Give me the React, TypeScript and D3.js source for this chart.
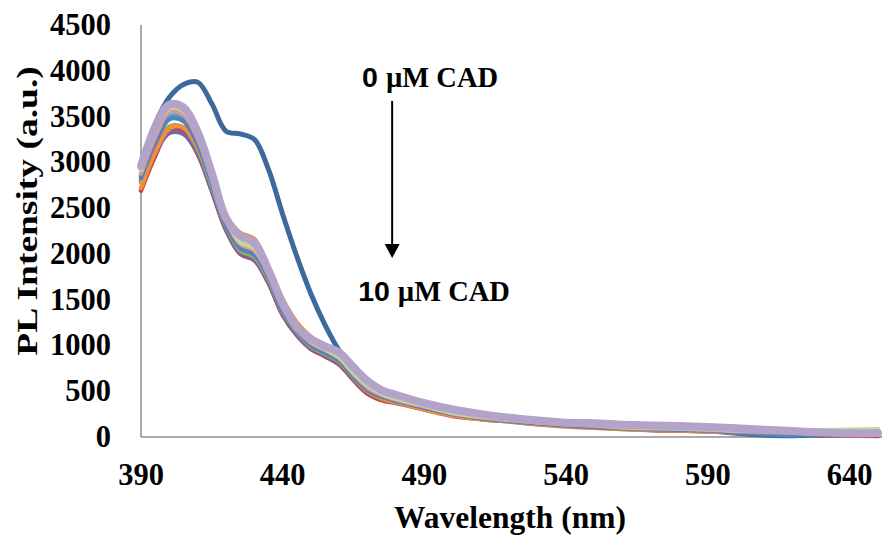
import React from "react";
import * as d3 from "d3";

// Emission wavelengths (nm) at which each spectrum was recorded
const wavelengths = [390, 395, 400, 405, 410, 415, 420, 425, 430, 435, 440, 445, 450, 455, 460, 465, 470, 475, 480, 490, 500, 510, 520, 530, 540, 550, 560, 570, 580, 590, 600, 610, 620, 630, 640, 650];

// PL intensity (a.u.) for each titration step
const cad0 = [2980, 3420, 3710, 3850, 3875, 3640, 3340, 3310, 3250, 2920, 2430, 1970, 1560, 1220, 940, 740, 560, 470, 420, 340, 270, 220, 185, 160, 130, 115, 100, 95, 85, 70, 40, 20, 15, 20, 25, 20];
const cadRed = [2690, 3070, 3350, 3330, 3090, 2690, 2260, 2000, 1930, 1680, 1330, 1110, 960, 880, 790, 620, 470, 400, 370, 300, 230, 195, 170, 140, 120, 105, 90, 75, 70, 60, 55, 40, 30, 25, 15, 10];
const cadPurple = [2800, 3110, 3320, 3310, 3100, 2690, 2270, 2010, 1940, 1690, 1340, 1120, 970, 890, 800, 640, 490, 420, 380, 310, 240, 200, 175, 145, 125, 110, 95, 85, 75, 65, 55, 50, 45, 40, 35, 40];
const cadGreen = [2780, 3150, 3390, 3380, 3150, 2740, 2310, 2040, 1970, 1720, 1370, 1150, 990, 910, 820, 650, 500, 430, 390, 315, 245, 205, 175, 150, 130, 115, 100, 90, 80, 70, 60, 55, 50, 45, 50, 55];
const cadOrange = [2720, 3110, 3370, 3380, 3170, 2790, 2380, 2230, 2160, 1850, 1500, 1250, 1090, 980, 850, 660, 500, 420, 380, 300, 235, 195, 170, 140, 115, 100, 85, 80, 70, 60, 50, 40, 35, 50, 40, 30];
const cadAqua = [2850, 3240, 3500, 3480, 3230, 2800, 2340, 2080, 2010, 1760, 1400, 1170, 1010, 930, 850, 680, 530, 450, 400, 330, 255, 210, 180, 155, 135, 120, 100, 90, 85, 75, 60, 50, 45, 50, 60, 70];
const cadBlue = [2830, 3210, 3470, 3450, 3200, 2770, 2320, 2060, 1990, 1740, 1380, 1160, 1000, 920, 830, 660, 510, 440, 395, 320, 250, 205, 175, 150, 125, 110, 95, 85, 80, 70, 50, 30, 20, 35, 45, 50];
const cadPink = [2880, 3280, 3550, 3520, 3260, 2830, 2370, 2110, 2040, 1780, 1420, 1180, 1030, 950, 860, 690, 540, 460, 410, 335, 260, 215, 185, 160, 140, 125, 105, 95, 90, 80, 65, 55, 50, 45, 40, 35];
const cadLightGreen = [2920, 3330, 3590, 3560, 3290, 2850, 2390, 2130, 2060, 1800, 1430, 1190, 1040, 960, 870, 700, 560, 470, 420, 340, 265, 220, 190, 165, 145, 130, 110, 100, 95, 85, 70, 65, 70, 75, 80, 85];
const cadLavender = [2960, 3380, 3630, 3600, 3330, 2880, 2390, 2200, 2120, 1820, 1460, 1200, 1070, 990, 920, 760, 610, 510, 460, 370, 300, 250, 210, 180, 155, 150, 135, 125, 120, 110, 95, 80, 65, 50, 40, 45];

const seriesValues = [cad0, cadRed, cadPurple, cadGreen, cadOrange, cadAqua, cadBlue, cadPink, cadLightGreen, cadLavender];
const seriesColors = ["#3D699C", "#BE4B48", "#7E62A1", "#96B853", "#F38C3C", "#4AABC5", "#5682BE", "#DA9896", "#C4D79B", "#B3A3C8"];
const seriesWidths = [5, 4.5, 4.5, 4.5, 4.5, 4.5, 4.5, 4.5, 4.5, 8];

const xTicks = [390, 440, 490, 540, 590, 640];
const yTicks = [0, 500, 1000, 1500, 2000, 2500, 3000, 3500, 4000, 4500];

const W = 882;
const H = 537;
const serif = "'Liberation Serif', 'Times New Roman', serif";
const sans = "'Liberation Sans', Arial, sans-serif";

export default function App() {
  const x = d3.scaleLinear().domain([390, 650]).range([141, 878]);
  const y = d3.scaleLinear().domain([0, 4500]).range([437, 25]);

  const line = d3
    .line<[number, number]>()
    .x((d) => x(d[0]))
    .y((d) => y(d[1]))
    .curve(d3.curveCatmullRom.alpha(0.5));

  const arrowX = x(478.6);
  const arrowTop = y(3670);
  const arrowTip = y(1955);

  return (
    <svg
      width={W}
      height={H}
      viewBox={`0 0 ${W} ${H}`}
      style={{ position: "absolute", left: 0, top: 0, background: "#fff" }}
    >
      <rect width={W} height={H} fill="#fff" />

      {/* axis lines */}
      <line x1={x(390)} x2={x(390)} y1={y(4500)} y2={y(0)} stroke="#8c8c8c" strokeWidth={1.5} />
      <line x1={x(390)} x2={W} y1={y(0)} y2={y(0)} stroke="#8c8c8c" strokeWidth={1.5} />

      {/* spectra */}
      <g fill="none" strokeLinejoin="round" strokeLinecap="round">
        {seriesValues.map((vals, i) => (
          <path
            key={i}
            d={line(wavelengths.map((w, j) => [w, vals[j]] as [number, number])) || ""}
            stroke={seriesColors[i]}
            strokeWidth={seriesWidths[i]}
          />
        ))}
      </g>

      {/* tick labels and axis titles */}
      <g fontFamily={serif} fontWeight="bold" fill="#000">
        {yTicks.map((t) => (
          <text key={t} x={111} y={y(t) + 10} textAnchor="end" fontSize={30.5}>
            {t}
          </text>
        ))}
        {xTicks.map((t) => (
          <text key={t} x={x(t)} y={485} textAnchor="middle" fontSize={30.5}>
            {t}
          </text>
        ))}
        <text x={510} y={528} textAnchor="middle" fontSize={31.5}>
          Wavelength (nm)
        </text>
        <text transform={`translate(37, 211) rotate(-90) scale(1.25, 1)`} textAnchor="middle" fontSize={30}>
          PL Intensity (a.u.)
        </text>
      </g>

      {/* concentration annotation */}
      <g fontWeight="bold" fontSize={28.5} fill="#000">
        <text x={x(468)} y={y(3818)}>
          <tspan fontFamily={sans}>0 </tspan>
          <tspan fontFamily={serif}>µM CAD</tspan>
        </text>
        <text x={x(466.6)} y={y(1485)}>
          <tspan fontFamily={sans}>10 </tspan>
          <tspan fontFamily={serif}>µM CAD</tspan>
        </text>
      </g>
      <line x1={arrowX} x2={arrowX} y1={arrowTop} y2={arrowTip - 12} stroke="#000" strokeWidth={2} />
      <path
        d={`M${arrowX - 7.5},${arrowTip - 14} L${arrowX + 7.5},${arrowTip - 14} L${arrowX},${arrowTip} Z`}
        fill="#000"
      />
    </svg>
  );
}
